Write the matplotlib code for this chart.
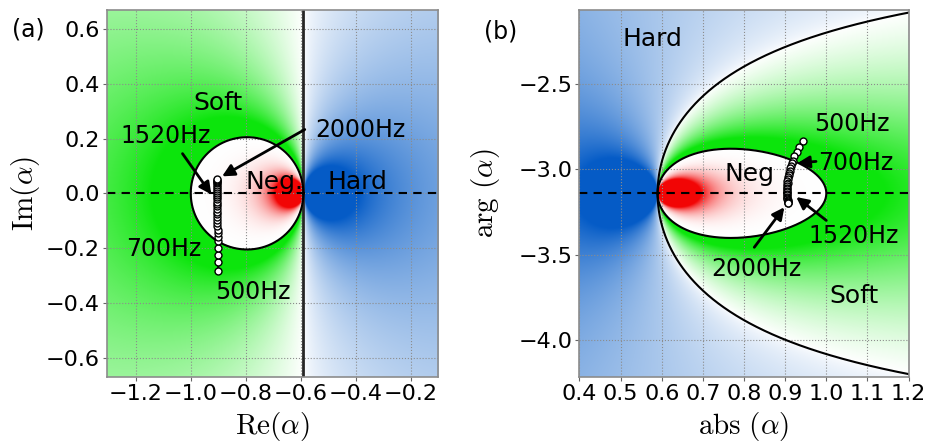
import numpy as np
import matplotlib.pyplot as plt

plt.rcParams['font.family'] = ['DejaVu Sans']
plt.rcParams['mathtext.fontset'] = 'cm'

# region boundaries in the complex alpha plane
edge_re = -0.59          # soft / hard boundary, Re(alpha)
neg_center = -0.795      # centre of the "Neg" circle
neg_radius = 0.205

# measured alpha, 500 Hz ... 2000 Hz every 50 Hz
freqs = list(range(500, 2001, 50))
re_alpha = [-0.900, -0.900, -0.901, -0.901, -0.902, -0.902, -0.902, -0.902,
            -0.903, -0.903, -0.903, -0.903, -0.903, -0.903, -0.904, -0.904,
            -0.904, -0.904, -0.904, -0.904, -0.904, -0.905, -0.905, -0.905,
            -0.905, -0.905, -0.905, -0.905, -0.905, -0.905, -0.905]
im_alpha = [-0.283, -0.252, -0.224, -0.198, -0.175, -0.160, -0.146, -0.133,
            -0.121, -0.109, -0.098, -0.087, -0.077, -0.067, -0.057, -0.048,
            -0.039, -0.030, -0.021, -0.013, -0.005, 0.003, 0.010, 0.017,
            0.024, 0.030, 0.036, 0.041, 0.046, 0.050, 0.053]

xlim_a = (-1.305, -0.1)
ylim_a = (-0.67, 0.67)
xlim_b = (0.4, 1.2)
ylim_b = (-np.pi - 1.073, -np.pi + 1.073)

green = np.array([0.05, 0.90, 0.05])
blue = np.array([0.02, 0.36, 0.78])
red = np.array([0.95, 0.02, 0.02])


def wrap_arg(z):
    th = np.angle(z)
    return np.where(th > 0, th - 2 * np.pi, th)


def field_rgb(z):
    u = np.real(1.0 / (z - edge_re))
    c = 1.0 / (2 * neg_radius)
    neg = np.abs(z - neg_center) < neg_radius
    hard = u > 0
    soft = ~hard & ~neg
    t = np.zeros(z.shape)
    t[hard] = np.clip(u[hard] / 5.0, 0, 1) ** 0.6
    t[soft] = np.clip(-u[soft] / 1.8, 0, 1)
    t[neg] = np.clip((-u[neg] - c) / 7.0, 0, 1) ** 1.8
    col = np.zeros(z.shape + (3,))
    col[hard] = blue
    col[soft] = green
    col[neg] = red
    return 1 - t[..., None] * (1 - col)


fig = plt.figure(figsize=(9.3, 4.46), dpi=100)
ax1 = fig.add_axes([0.115, 0.155, 0.356, 0.823])
ax2 = fig.add_axes([0.623, 0.155, 0.354, 0.823])

# ---- panel (a): complex plane
xx, yy = np.meshgrid(np.linspace(*xlim_a, 700), np.linspace(*ylim_a, 700))
ax1.imshow(field_rgb(xx + 1j * yy), extent=(*xlim_a, *ylim_a), origin='lower',
           aspect='auto', interpolation='bilinear', zorder=0)
ax1.axvline(edge_re, color='0.15', lw=2)
phi = np.linspace(0, 2 * np.pi, 400)
circ = neg_center + neg_radius * np.exp(1j * phi)
ax1.plot(circ.real, circ.imag, color='k', lw=1.5)
ax1.axhline(0, color='k', ls='--', lw=1.5, dashes=(4, 3))
ax1.plot(re_alpha, im_alpha, '-o', color='k', lw=1.5, ms=5, mfc='white',
         mec='k', mew=1)
ax1.set_xlim(*xlim_a)
ax1.set_ylim(*ylim_a)
ax1.set_xticks(np.arange(-1.2, -0.19, 0.2))
ax1.set_yticks(np.arange(-0.6, 0.61, 0.2))
ax1.set_xticklabels(['\u22121.2', '\u22121.0', '\u22120.8', '\u22120.6', '\u22120.4', '\u22120.2'])
ax1.set_yticklabels(['\u22120.6', '\u22120.4', '\u22120.2', '0.0', '0.2', '0.4', '0.6'])

ax1.text(-0.90, 0.33, 'Soft', fontsize=18, ha='center', va='center')
ax1.text(-0.697, 0.04, 'Neg.', fontsize=18, ha='center', va='center')
ax1.text(-0.393, 0.04, 'Hard', fontsize=18, ha='center', va='center')
ax1.text(-1.093, 0.21, '1520Hz', fontsize=17, ha='center', va='center')
ax1.text(-0.382, 0.233, '2000Hz', fontsize=17, ha='center', va='center')
ax1.text(-1.10, -0.204, '700Hz', fontsize=17, ha='center', va='center')
ax1.text(-0.774, -0.36, '500Hz', fontsize=17, ha='center', va='center')
arrow = dict(arrowstyle='-|>', color='k', lw=2, mutation_scale=18, shrinkA=0, shrinkB=0)
ax1.annotate('', xy=(-0.925, -0.004), xytext=(-1.03, 0.145), arrowprops=arrow)
ax1.annotate('', xy=(-0.886, 0.062), xytext=(-0.585, 0.233), arrowprops=arrow)
ax1.set_xlabel(r'$\mathrm{Re}(\alpha)$', fontsize=21)
ax1.set_ylabel(r'$\mathrm{Im}(\alpha)$', fontsize=21, va='center')
ax1.xaxis.set_label_coords(0.5, -0.09)
ax1.yaxis.set_label_coords(-0.245, 0.5)
fig.text(28 / 930, 1 - 30 / 446, '(a)', fontsize=17, ha='center', va='center')

# ---- panel (b): abs / arg
rr, tt = np.meshgrid(np.linspace(*xlim_b, 700), np.linspace(*ylim_b, 700))
ax2.imshow(field_rgb(rr * np.exp(1j * tt)), extent=(*xlim_b, *ylim_b), origin='lower',
           aspect='auto', interpolation='bilinear', zorder=0)
s = np.linspace(-3, 3, 2000)
line_b = edge_re + 1j * s
ax2.plot(np.abs(line_b), wrap_arg(line_b), color='k', lw=1.5)
ax2.plot(np.abs(circ), wrap_arg(circ), color='k', lw=1.5)
ax2.axhline(-np.pi, color='k', ls='--', lw=1.5, dashes=(4, 3))
za = np.array(re_alpha) + 1j * np.array(im_alpha)
ax2.plot(np.abs(za), wrap_arg(za), '-o', color='k', lw=1.5, ms=5, mfc='white',
         mec='k', mew=1)
ax2.set_xlim(*xlim_b)
ax2.set_ylim(*ylim_b)
ax2.set_xticks(np.arange(0.4, 1.21, 0.1))
ax2.set_xticklabels(['0.4', '0.5', '0.6', '0.7', '0.8', '0.9', '1.0', '1.1', '1.2'])
ax2.set_yticks([-4.0, -3.5, -3.0, -2.5])
ax2.set_yticklabels(['\u22124.0', '\u22123.5', '\u22123.0', '\u22122.5'])

ax2.text(0.578, -2.24, 'Hard', fontsize=18, ha='center', va='center')
ax2.text(0.813, -3.03, 'Neg', fontsize=18, ha='center', va='center')
ax2.text(1.067, -3.742, 'Soft', fontsize=18, ha='center', va='center')
ax2.text(1.062, -2.734, '500Hz', fontsize=17, ha='center', va='center')
ax2.text(1.072, -2.963, '700Hz', fontsize=17, ha='center', va='center')
ax2.text(1.067, -3.39, '1520Hz', fontsize=17, ha='center', va='center')
ax2.text(0.83, -3.586, '2000Hz', fontsize=17, ha='center', va='center')
ax2.annotate('', xy=(0.93, -2.965), xytext=(0.975, -2.955), arrowprops=arrow)
ax2.annotate('', xy=(0.927, -3.163), xytext=(1.0, -3.30), arrowprops=arrow)
ax2.annotate('', xy=(0.898, -3.223), xytext=(0.825, -3.457), arrowprops=arrow)
ax2.set_xlabel(r'$\mathrm{abs}\ (\alpha)$', fontsize=21)
ax2.set_ylabel(r'$\mathrm{arg}\ (\alpha)$', fontsize=21, va='center')
ax2.xaxis.set_label_coords(0.5, -0.09)
ax2.yaxis.set_label_coords(-0.285, 0.5)
fig.text(501 / 930, 1 - 32 / 446, '(b)', fontsize=17, ha='center', va='center')

for ax in (ax1, ax2):
    ax.grid(True, ls=':', color='0.55', lw=0.8)
    ax.tick_params(labelsize=16, length=3, color='0.4', pad=2)
    for sp in ax.spines.values():
        sp.set_color('0.55')
        sp.set_linewidth(1.2)

fig.savefig('out.png', dpi=100)
